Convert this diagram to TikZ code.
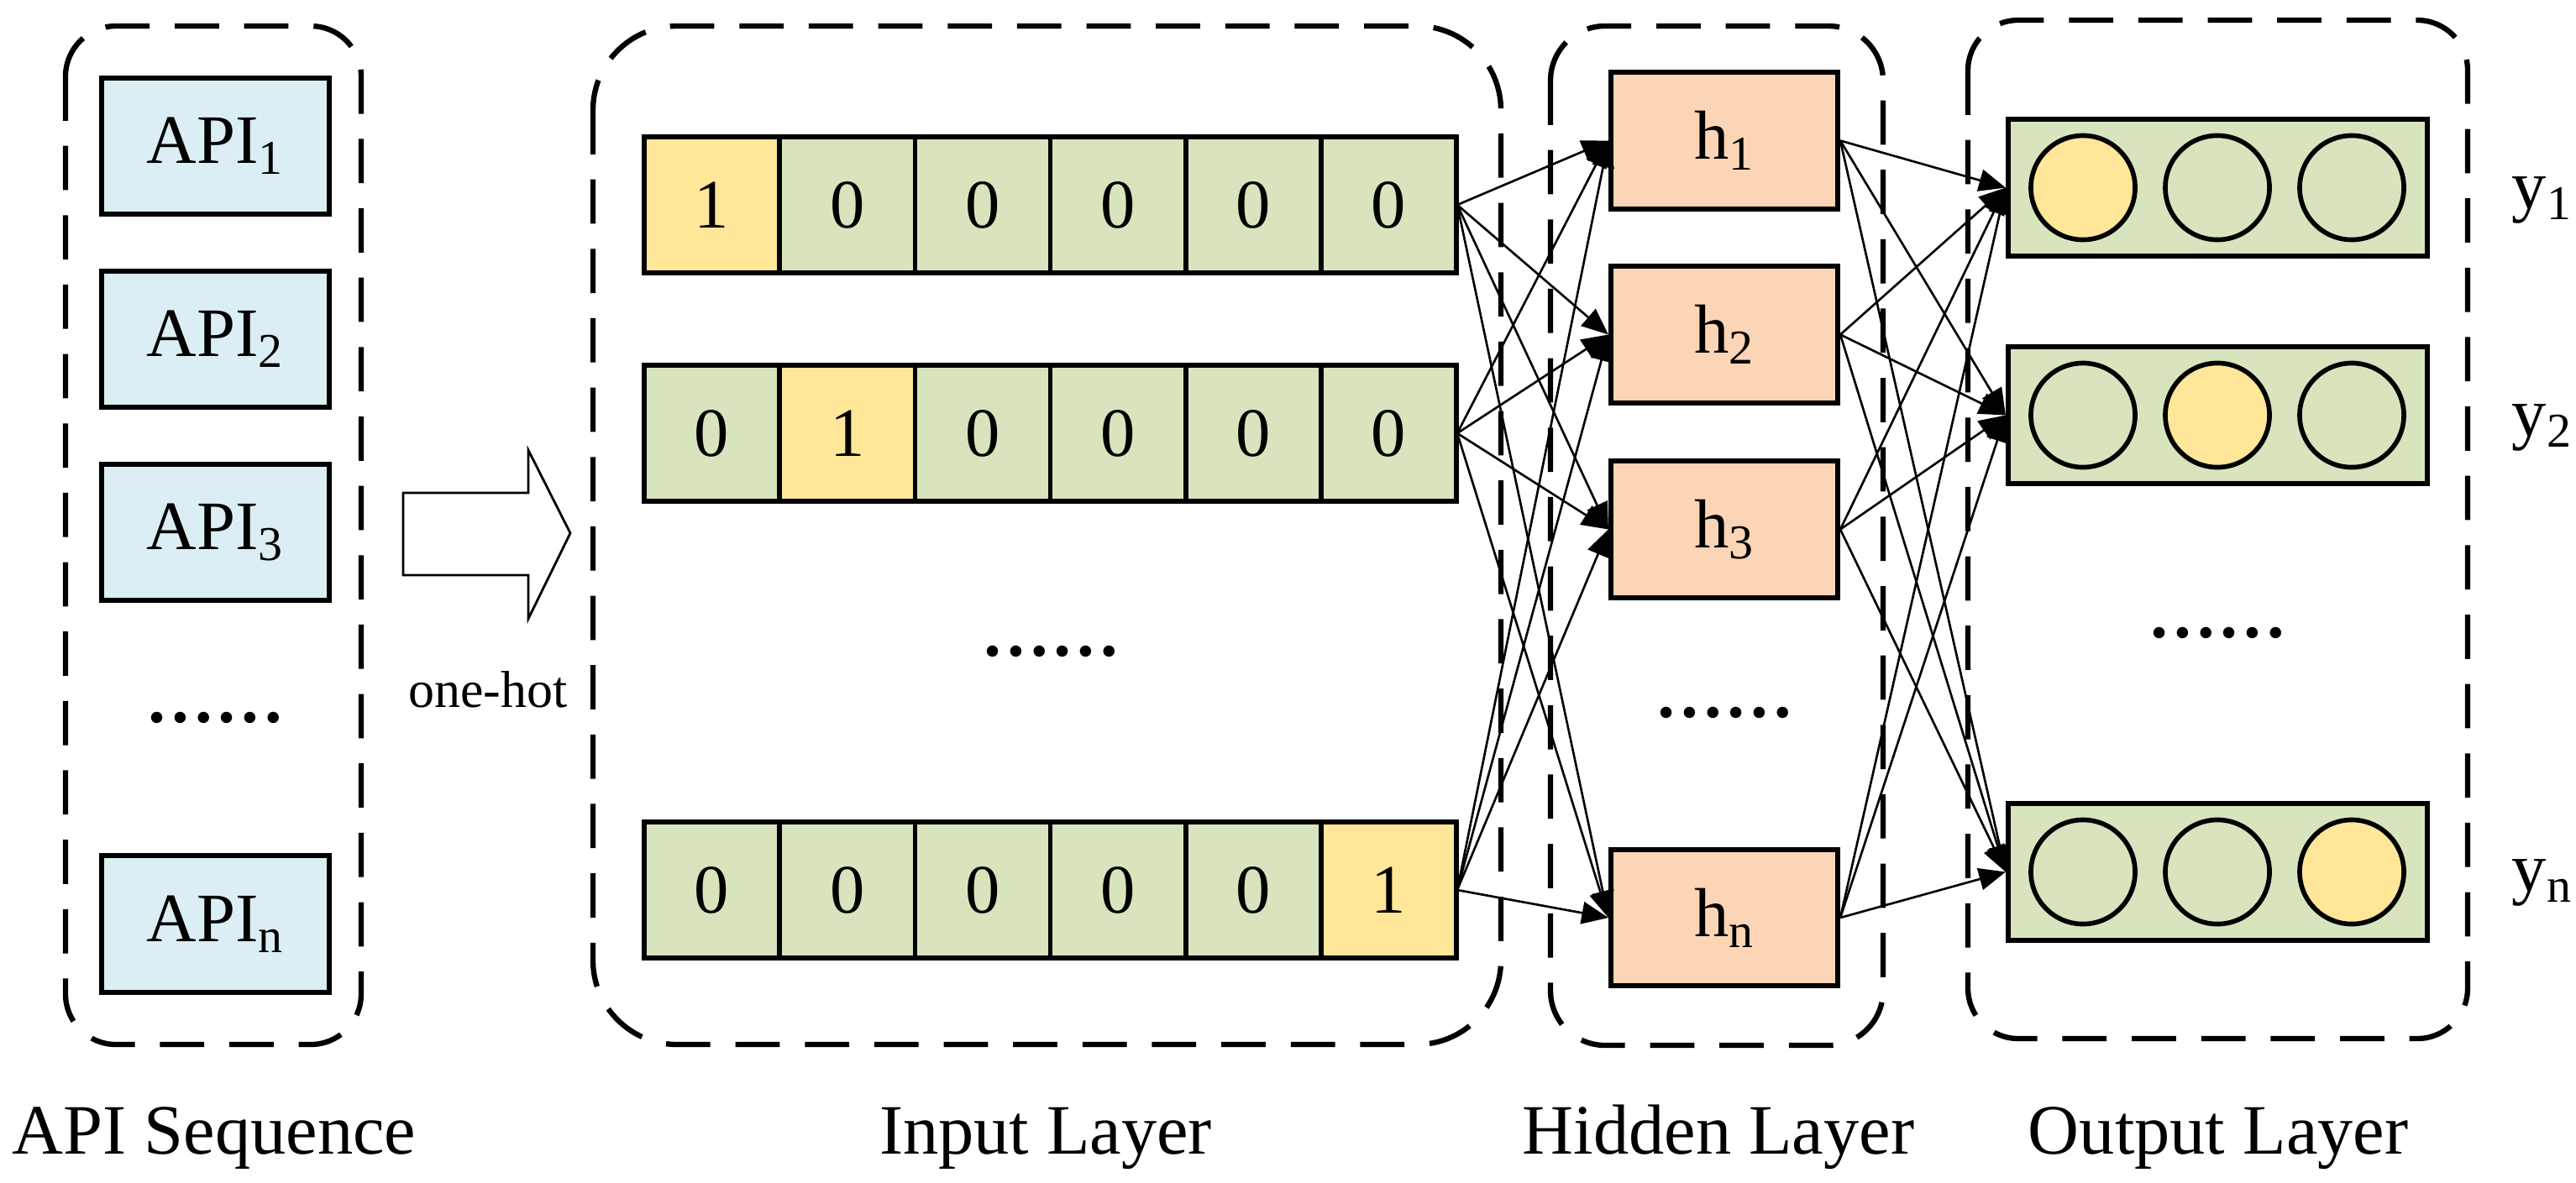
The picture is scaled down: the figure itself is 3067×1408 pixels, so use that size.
\documentclass[tikz,border=0pt]{standalone}
\usepackage{fontspec}
\setmainfont{Liberation Serif}
\usetikzlibrary{arrows.meta}
\definecolor{apiblue}{HTML}{DAEEF3}
\definecolor{cellgreen}{HTML}{D7E4BD}
\definecolor{cellyellow}{HTML}{FFE699}
\definecolor{hpeach}{HTML}{FBD5B5}
\begin{document}
\begin{tikzpicture}[x=0.01cm,y=-0.01cm,
  every node/.style={font=\fontsize{23.5pt}{28pt}\selectfont, inner sep=0pt},
  grp/.style={draw, line width=1.8pt, dash pattern=on 15pt off 8.5pt},
  apibox/.style={draw, line width=1.7pt, fill=apiblue, minimum width=2.71cm, minimum height=1.62cm},
  cell/.style={draw, line width=1.6pt, fill=cellgreen, minimum width=1.612cm, minimum height=1.62cm},
  hot/.style={cell, fill=cellyellow},
  hbox/.style={draw, line width=1.7pt, fill=hpeach, minimum width=2.70cm, minimum height=1.62cm},
  outrow/.style={draw, line width=1.7pt, fill=cellgreen, minimum width=4.99cm, minimum height=1.62cm},
  unit/.style={circle, draw, line width=1.6pt, fill=cellgreen, minimum size=1.24cm},
  unithot/.style={unit, fill=cellyellow},
  conn/.style={line width=0.75pt, -{Triangle[length=9pt,width=7.5pt]}},
  lab/.style={font=\fontsize{24pt}{28pt}\selectfont, anchor=base},
  dotsnode/.style={font=\bfseries\fontsize{23.5pt}{28pt}\selectfont},
]
\useasboundingbox (0,0) rectangle (3067,1408);

% group frames
\draw[grp, rounded corners=0.6cm] (78,31) rectangle (430,1244);
\draw[grp, rounded corners=1.0cm] (706,31) rectangle (1787,1244);
\draw[grp, rounded corners=0.65cm] (1846,31) rectangle (2242,1245);
\draw[grp, rounded corners=0.6cm] (2343,24) rectangle (2938,1237);

% API sequence
\node[apibox] (api1) at (256.5,174) {API\textsubscript{1}};
\node[apibox] (api2) at (256.5,404) {API\textsubscript{2}};
\node[apibox] (api3) at (256.5,634) {API\textsubscript{3}};
\node[dotsnode] (apidots) at (256,855) {……};
\node[apibox] (apin) at (256.5,1100.5) {API\textsubscript{n}};

% one-hot arrow
\draw[line width=0.8pt, fill=white] (480,587) -- (629,587) -- (629,536) -- (679,635) -- (629,737) -- (629,685) -- (480,685) -- cycle;
\node[font=\fontsize{17.6pt}{20pt}\selectfont, anchor=base] (onehot) at (581,842) {one-hot};

% input layer
\foreach \row/\yy/\hotc in {1/244/1, 2/516/2, 3/1060/6} {
  \node[minimum width=9.67cm, minimum height=1.62cm] (r\row) at (1250.5,\yy) {};
  \foreach \c in {1,...,6} {
    \pgfmathsetmacro\xx{847.6+161.2*(\c-1)}
    \pgfmathtruncatemacro\val{\c==\hotc}
    \ifnum\val=1 \def\sty{hot}\else\def\sty{cell}\fi
    \node[\sty] (c\row-\c) at (\xx,\yy) {\val};
  }
}
\node[dotsnode] (indots) at (1251,776) {……};

% hidden layer
\node[hbox] (h1) at (2053,167.5) {h\textsubscript{1}};
\node[hbox] (h2) at (2053,398.5) {h\textsubscript{2}};
\node[hbox] (h3) at (2053,630.5) {h\textsubscript{3}};
\node[dotsnode] (hdots) at (2053,849) {……};
\node[hbox] (hn) at (2053,1093) {h\textsubscript{n}};

% output layer
\foreach \nm/\yy/\hotc in {o1/223.5/1, o2/494.5/2, on/1038.5/3} {
  \node[outrow] (\nm) at (2640.5,\yy) {};
  \foreach \c in {1,2,3} {
    \pgfmathsetmacro\xx{2480+160*(\c-1)}
    \ifnum\c=\hotc \def\sty{unithot}\else\def\sty{unit}\fi
    \node[\sty] (\nm-\c) at (\xx,\yy) {};
  }
}
\node[dotsnode] (odots) at (2640,754) {……};

\node[anchor=base west] (ly1) at (2990,248) {y\textsubscript{1}};
\node[anchor=base west] (ly2) at (2990,519) {y\textsubscript{2}};
\node[anchor=base west] (lyn) at (2990,1061) {y\textsubscript{n}};

% connections
\foreach \r in {r1,r2,r3}
  \foreach \h in {h1,h2,h3,hn}
    \draw[conn] (\r.east) -- (\h.west);
\foreach \h in {h1,h2,h3,hn}
  \foreach \o in {o1,o2,on}
    \draw[conn] (\h.east) -- (\o.west);

% captions
\node[lab] (capapi) at (255,1374) {API Sequence};
\node[lab] (capin) at (1245,1374) {Input Layer};
\node[lab] (caphid) at (2046,1374) {Hidden Layer};
\node[lab] (capout) at (2641,1374) {Output Layer};
\end{tikzpicture}
\end{document}
